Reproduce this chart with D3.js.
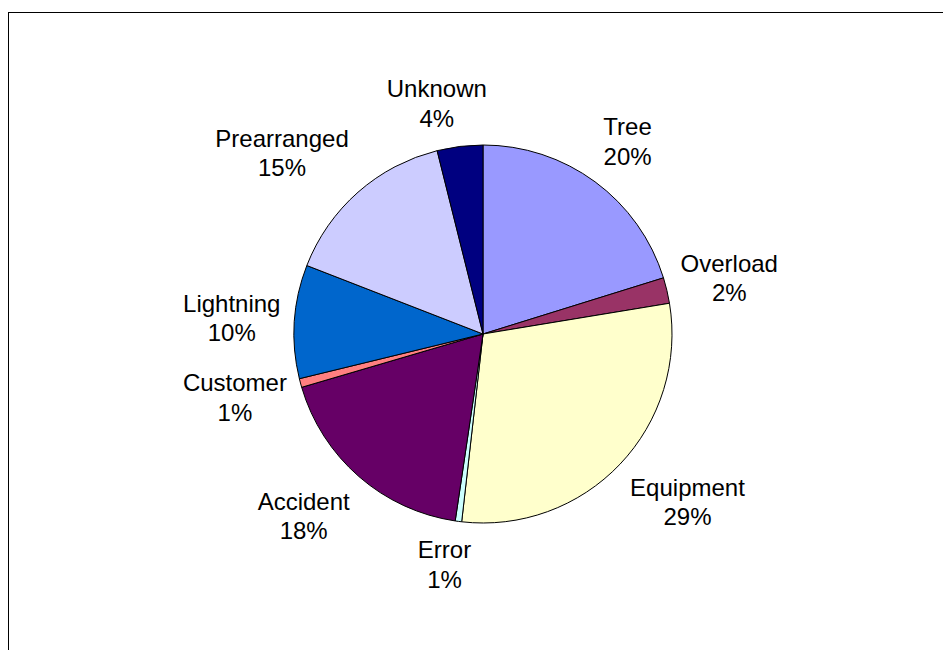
<!DOCTYPE html>
<html>
<head>
<meta charset="utf-8">
<script src="https://cdn.jsdelivr.net/npm/d3@7"></script>
<style>
  html, body { margin: 0; padding: 0; background: #fff; }
  svg { display: block; }
</style>
</head>
<body>
<svg id="chart" width="943" height="650"></svg>
<script>
// Data (clockwise from 12 o'clock)
const categories = ["Tree", "Overload", "Equipment", "Error", "Accident", "Customer", "Lightning", "Prearranged", "Unknown"];
const values     = [20.2, 2.2, 29.4, 0.55, 18.1, 0.75, 9.7, 15.2, 3.9];
const colors     = ["#9999FF", "#993366", "#FFFFCC", "#CCFFFF", "#660066", "#FF8080", "#0066CC", "#CCCCFF", "#000080"];

const W = 943, H = 650;
const cx = 483, cy = 334, R = 189;
const fontSize = 24, lineGap = 29.5, labelDist = 203;

const svg = d3.select("#chart");

// chart area frame (extends past the window on right/bottom)
svg.append("rect")
  .attr("x", 8.5).attr("y", 12.5)
  .attr("width", 1000).attr("height", 1000)
  .attr("fill", "#fff").attr("stroke", "#000").attr("stroke-width", 1);

const data = categories.map((c, i) => ({ name: c, value: values[i], color: colors[i] }));
const total = d3.sum(values);

const pie = d3.pie().value(d => d.value).sort(null).startAngle(0).endAngle(2 * Math.PI);
const arcs = pie(data);
const arc = d3.arc().innerRadius(0).outerRadius(R);

const g = svg.append("g").attr("transform", `translate(${cx},${cy})`);

g.selectAll("path.slice")
  .data(arcs)
  .enter().append("path")
  .attr("class", "slice")
  .attr("d", arc)
  .attr("fill", d => d.data.color)
  .attr("stroke", "#000")
  .attr("stroke-width", 1)
  .attr("stroke-linejoin", "round");

// labels (outside end, anchored on a ray from the centre through each slice's middle)
const clamp = v => Math.max(-1, Math.min(1, v));
const lab = g.selectAll("g.label")
  .data(arcs)
  .enter().append("g")
  .attr("class", "label");

lab.each(function(d) {
  const sel = d3.select(this);
  const mk = (txt, dy) => sel.append("text")
    .attr("text-anchor", "middle")
    .attr("font-family", "'Liberation Sans', Arial, sans-serif")
    .attr("font-size", fontSize)
    .attr("fill", "#000")
    .attr("y", dy + fontSize * 0.358)
    .text(txt);
  const t1 = mk(d.data.name, -lineGap / 2);
  const t2 = mk(Math.round(d.data.value / total * 100) + "%", lineGap / 2);
  const w = Math.max(t1.node().getComputedTextLength(), t2.node().getComputedTextLength());
  const h = lineGap * 2 - 1;
  const a = (d.startAngle + d.endAngle) / 2;
  const s = Math.sin(a), c = -Math.cos(a);
  const px = s * labelDist, py = c * labelDist;
  const x = px + clamp(s * 3.5) * w / 2;
  const y = py + clamp(c * 1.414) * h / 2;
  sel.attr("transform", `translate(${x},${y})`);
});
</script>
</body>
</html>
